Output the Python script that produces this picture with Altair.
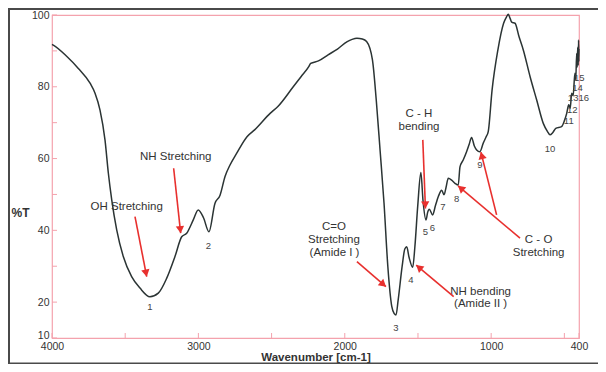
import math
import altair as alt
import pandas as pd

# ---- spectrum (wavenumber cm-1, %T) ----
wn = [4000, 3991, 3900, 3820, 3740, 3706, 3672, 3638, 3615, 3592, 3558, 3513, 3456, 3399,
      3331, 3274, 3217, 3160, 3114, 3080, 3035, 3001, 2965, 2928, 2887, 2852, 2818, 2784,
      2738, 2668, 2616, 2510, 2457, 2352, 2299, 2246, 2233, 2180, 2114, 2050, 1983, 1950,
      1917, 1880, 1851, 1811, 1785, 1759, 1732, 1706, 1679, 1662, 1650, 1635, 1608, 1590,
      1577, 1561, 1536, 1521, 1502, 1480, 1466, 1445, 1434, 1423, 1400, 1380, 1361, 1338,
      1322, 1308, 1293, 1270, 1247, 1225, 1213, 1191, 1168, 1150, 1134, 1115, 1099, 1077,
      1054, 1035, 1020, 994, 954, 915, 895, 883, 870, 860, 837, 810, 780, 734, 689, 644,
      615, 598, 580, 559, 519, 500, 484, 470, 460, 450, 440, 428, 422, 416, 412, 409, 405,
      403, 401, 400]
T = [91.8, 91.6, 88.5, 85.1, 81.0, 78.2, 73.5, 65.2, 55.9, 48.5, 40.1, 32.7, 27.1, 23.9,
     21.5, 22.5, 26.6, 32.7, 38.2, 39.2, 42.9, 45.7, 43.5, 39.6, 47.5, 49.8, 55.0, 58.2,
     61.5, 66.1, 68.0, 72.6, 74.5, 80.0, 82.8, 85.6, 86.5, 87.2, 88.9, 90.5, 92.6, 93.2,
     93.5, 93.3, 92.6, 87.5, 76.3, 62.4, 47.6, 30.0, 18.8, 16.8, 16.4, 20.7, 30.0, 34.8,
     35.4, 32.5, 29.7, 35.5, 46.6, 56.1, 48.5, 42.9, 45.0, 45.9, 44.3, 47.0, 49.4, 51.2,
     49.9, 52.0, 54.5, 54.0, 53.1, 52.6, 57.7, 59.6, 61.9, 64.0, 65.9, 63.5, 62.4, 61.9,
     64.3, 66.0, 67.5, 79.0, 90.3, 97.7, 99.5, 100.2, 99.0, 98.0, 97.7, 94.0, 90.2, 82.8,
     76.3, 69.8, 67.5, 66.6, 67.2, 68.4, 68.9, 70.5, 72.6, 75.0, 74.0, 78.2, 77.5, 83.8,
     82.0, 89.3, 85.5, 91.0, 86.0, 93.0, 87.0, 90.5]

# ---- peak numbers ----
num_text = ["1", "2", "3", "4", "5", "6", "7", "8", "9", "10", "11", "12", "13", "14", "15", "16"]
num_wn = [3331, 2931, 1650, 1548, 1449, 1402, 1330, 1235, 1077, 598, 470, 446, 440, 410, 398, 368]
num_T = [18.6, 35.7, 12.9, 26.2, 39.5, 40.7, 46.6, 48.6, 58.2, 62.7, 70.6, 73.6, 77.0, 79.6, 82.4, 77.0]

# ---- annotation texts ----
ann_text = ["OH Stretching", "NH Stretching", "C=O", "Stretching", "(Amide I )",
            "NH bending", "(Amide II )", "C - H", "bending", "C - O", "Stretching"]
ann_wn = [3490, 3155, 2074, 2074, 2070, 1072, 1072, 1493, 1493, 676, 676]
ann_T = [46.6, 60.3, 40.8, 37.3, 33.8, 22.9, 19.4, 72.4, 68.9, 37.3, 33.6]

# ---- arrows (start -> tip) ----
arr_wn0 = [3433, 3169, 1917, 1256, 1467, 803, 963]
arr_T0 = [43.8, 57.3, 31.3, 21.5, 65.2, 37.8, 44.3]
arr_wn1 = [3353, 3121, 1719, 1512, 1449, 1226, 1070]
arr_T1 = [27.1, 39.2, 24.3, 30.3, 46.1, 52.4, 61.8]

# ---- axis ticks ----
x_ticks = [4000, 3500, 3000, 2500, 2000, 1500, 1000, 500, 400]
x_labels = [4000, 3000, 2000, 1000, 400]
y_ticks = [10, 20, 30, 40, 50, 60, 70, 80, 90, 100]
y_labels = [100, 80, 60, 40, 20, 10]

W, H = 527, 323
PINK = "#f4a2ad"
RED = "#e8302e"
TXT = "#333333"
FONT = "Liberation Sans"

xs = alt.Scale(domain=[4000, 400], nice=False, zero=False)
ys = alt.Scale(domain=[10, 100], nice=False, zero=False)

spec = pd.DataFrame({"wn": wn, "T": T})
nums = pd.DataFrame({"wn": num_wn, "T": num_T, "t": num_text})
anns = pd.DataFrame({"wn": ann_wn, "T": ann_T, "t": ann_text})


def px(v):
    return (4000 - v) * W / 3600


def py(v):
    return (100 - v) * H / 90


heads = []
for a0, b0, a1, b1 in zip(arr_wn0, arr_T0, arr_wn1, arr_T1):
    dx = px(a1) - px(a0)
    dy = py(b1) - py(b0)
    L = math.hypot(dx, dy)
    ang = math.degrees(math.atan2(dx, -dy)) % 360
    back = 3.5
    hx = a1 + (back * dx / L) * 3600 / W
    hy = b1 + (back * dy / L) * 90 / H
    heads.append({"wn": hx, "T": hy, "ang": ang})
arrows = pd.DataFrame({"wn": arr_wn0, "T": arr_T0, "wn1": arr_wn1, "T1": arr_T1})
heads = pd.DataFrame(heads)

TICK_LEN = 5  # pixels
dx_tick = TICK_LEN * 3600 / W
dy_tick = TICK_LEN * 90 / H

x_axis = alt.Axis(values=x_labels, format="d", ticks=False, tickSize=0, domain=False,
                  grid=False, labelOverlap=False, labelFlush=False, labelBound=False, labelPadding=3,
                  labelFontSize=10.5, labelColor=TXT, labelFont=FONT,
                  title="Wavenumber [cm-1]", titleFontSize=11.5, titleFontWeight="bold",
                  titleColor=TXT, titleFont=FONT, titleBaseline="middle", titleY=19.5)
y_axis = alt.Axis(values=y_labels, format="d", ticks=False, tickSize=0, domain=False,
                  grid=False, labelOverlap=False, labelFlush=False, labelBound=False, labelPadding=3,
                  labelFontSize=10.5, labelColor=TXT, labelFont=FONT,
                  labelOffset=alt.expr("datum.value == 10 ? -3 : 0"),
                  title="%T", titleAngle=0, titleX=-32, titleY=197, titleAlign="center",
                  titleBaseline="middle", titleFontSize=12, titleFontWeight="bold",
                  titleColor=TXT, titleFont=FONT)

X = alt.X("wn:Q", scale=xs, axis=x_axis)
Y = alt.Y("T:Q", scale=ys, axis=y_axis)

line = alt.Chart(spec).mark_line(color="#2b3434", strokeWidth=1.5, interpolate="monotone").encode(
    x=X, y=Y)

yt = alt.Chart(pd.DataFrame({"T": y_ticks})).mark_rule(color=PINK, strokeWidth=1).encode(
    y=Y,
    x=alt.datum(4000),
    x2=alt.datum(4000 - dx_tick),
)

xt = alt.Chart(pd.DataFrame({"wn": x_ticks})).mark_rule(color=PINK, strokeWidth=1).encode(
    x=X,
    y=alt.datum(10),
    y2=alt.datum(10 + dy_tick),
)

num_layer = alt.Chart(nums).mark_text(fontSize=9.5, color="#444444", font=FONT).encode(
    x=X, y=Y, text="t:N")

ann_layer = alt.Chart(anns).mark_text(fontSize=11.5, color=TXT, font=FONT).encode(
    x=X, y=Y, text="t:N")

shafts = alt.Chart(arrows).mark_rule(color=RED, strokeWidth=1.6).encode(
    x=X, y=Y, x2="wn1:Q", y2="T1:Q")

tips = alt.Chart(heads).mark_point(shape="triangle-up", filled=True, size=70, color=RED, opacity=1).encode(
    x=X, y=Y, angle=alt.Angle("ang:Q", scale=None))

frame = alt.Chart(pd.DataFrame({"a": [0]})).mark_rect(
    fill=None, fillOpacity=0, stroke="#4a4a4a", strokeWidth=2
).encode(x=alt.value(-43), x2=alt.value(600), y=alt.value(-6), y2=alt.value(348.5))

chart = alt.layer(line, frame, yt, xt, num_layer, ann_layer, shafts, tips).properties(
    width=W, height=H,
    autosize=alt.AutoSizeParams(type="none"),
    padding={"left": 44, "top": 7, "right": 19, "bottom": 26},
    background="white",
).configure_view(stroke=PINK, strokeWidth=1.2)

chart.save("out.html", embed_options={"renderer": "svg", "actions": False})
